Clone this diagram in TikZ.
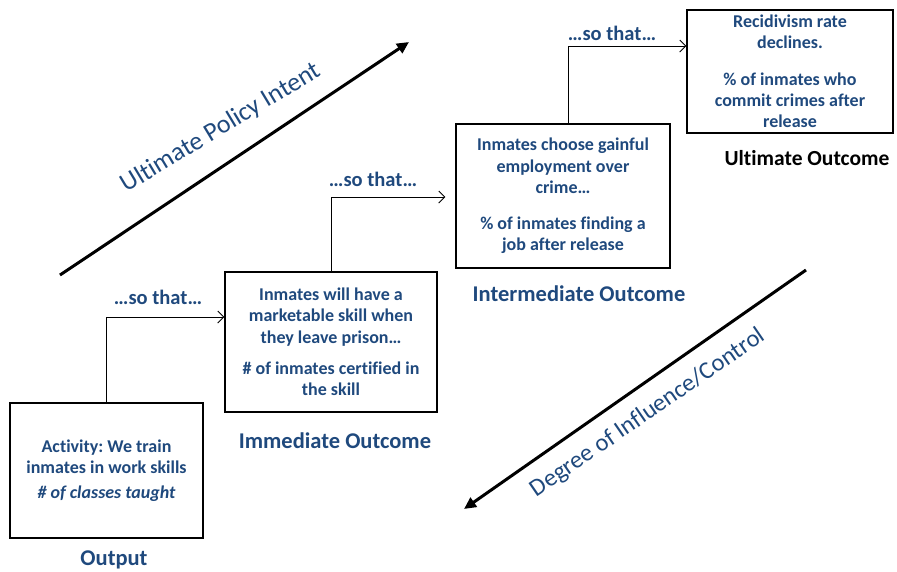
\documentclass[tikz,border=0pt]{standalone}
\usepackage{fontspec}
\setmainfont[Ligatures=NoCommon]{Carlito}
\usetikzlibrary{arrows.meta,calc}
\definecolor{txtblue}{RGB}{31,73,125}
\begin{document}
\begin{tikzpicture}[x=1pt,y=-1pt,
  box/.style={draw=black,line width=1.1pt,rectangle,align=center,text=txtblue,
    font=\bfseries\fontsize{18}{21.3}\selectfont,inner sep=0pt},
  lbl/.style={text=txtblue,font=\bfseries\fontsize{22.5}{26}\selectfont},
  sothat/.style={text=txtblue,font=\bfseries\fontsize{20.5}{24}\selectfont},
  conn/.style={line width=1pt,-{Straight Barb[length=6pt,width=12pt]}},
  bigarrow/.style={line width=3pt,-{Triangle[length=12pt,width=11pt]}},
  diag/.style={text=txtblue,font=\fontsize{26}{30}\selectfont}]
\useasboundingbox (0,0) rectangle (897,571);
% boxes
\node[box,minimum width=193pt,minimum height=135pt] (out) at (106.5,470.5)
  {Activity:\ We train\\ inmates in work skills\\[3pt] \itshape \# of classes taught};
\node[box,minimum width=212pt,minimum height=140pt] (imm) at (331,342)
  {Inmates will have a\\ marketable skill when\\ they leave prison…\\[10pt] \# of inmates certified in\\ the skill};
\node[box,minimum width=214pt,minimum height=144pt] (inter) at (563,196)
  {Inmates choose gainful\\ employment over\\ crime…\\[15pt] \% of inmates finding a\\ job after release};
\node[box,minimum width=206pt,minimum height=123pt] (ult) at (790,71.5)
  {Recidivism rate\\ declines.\\[15pt] \% of inmates who\\ commit crimes after\\ release};
% labels
\node[lbl] (outlbl) at (114,560) {Output};
\node[lbl] (immlbl) at (335,441) {Immediate Outcome};
\node[lbl] (interlbl) at (579,294) {Intermediate Outcome};
\node[lbl,text=black,font=\bfseries\fontsize{21.5}{26}\selectfont] (ultlbl) at (807,158) {Ultimate Outcome};
% connectors
\coordinate (c1) at (0,317);
\coordinate (c2) at (0,197);
\coordinate (c3) at (0,46);
\draw[conn] (out.north) -- (out.north |- c1) -- (imm.west |- c1);
\draw[conn,shorten >=10pt] (imm.north) -- (imm.north |- c2) -- (inter.west |- c2);
\draw[conn] ([xshift=5pt]inter.north) -- ([xshift=5pt]inter.north |- c3) -- (ult.west |- c3);
\node[sothat] (s1) at (158,297) {…so that…};
\node[sothat] (s2) at (373,179) {…so that…};
\node[sothat] (s3) at (612,33) {…so that…};
% big diagonal arrows
\coordinate (a1s) at (60,275);
\coordinate (a1e) at (409,42);
\coordinate (a2s) at (806,270);
\coordinate (a2e) at (464,509);
\draw[bigarrow] (a1s) -- (a1e);
\draw[bigarrow] (a2s) -- (a2e);
\node[diag,rotate=31] (upi) at (221,128) {Ultimate Policy Intent};
\node[diag,rotate=34.5,font=\fontsize{24.5}{29}\selectfont] (doi) at (648,413) {Degree of Influence/Control};
\end{tikzpicture}
\end{document}
